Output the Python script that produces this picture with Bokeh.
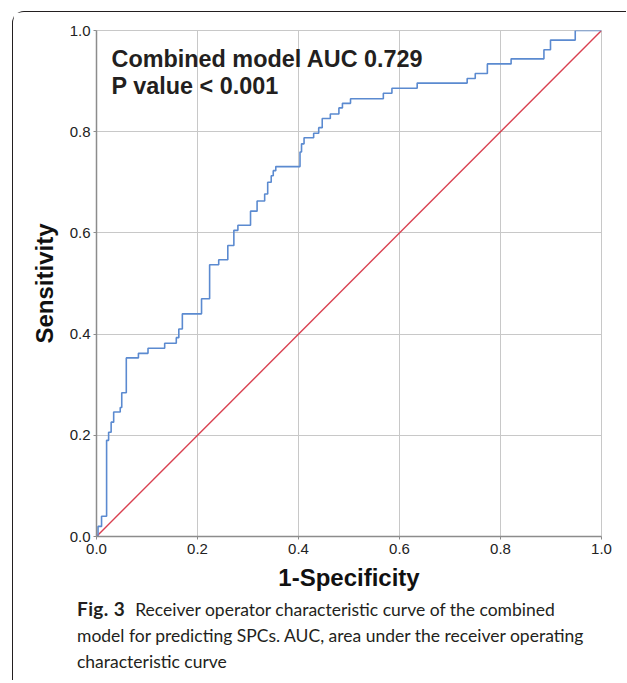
from bokeh.plotting import figure
from bokeh.models import Label, FixedTicker, PrintfTickFormatter, Range1d, Div
from bokeh.layouts import column
from bokeh.embed import file_html
from bokeh.resources import INLINE

# ROC curve points (1-Specificity, Sensitivity)
fpr = [0.0, 0.003, 0.01, 0.02, 0.024, 0.029, 0.034, 0.047, 0.05, 0.059,
       0.083, 0.102, 0.135, 0.158, 0.163, 0.17, 0.208, 0.224, 0.242, 0.26,
       0.272, 0.28, 0.305, 0.318, 0.333, 0.339, 0.346, 0.35, 0.355, 0.403,
       0.406, 0.411, 0.43, 0.44, 0.447, 0.463, 0.48, 0.487, 0.503, 0.568,
       0.585, 0.635, 0.734, 0.75, 0.774, 0.821, 0.886, 0.899, 0.948, 1.0]
tpr = [0.0, 0.02, 0.04, 0.19, 0.206, 0.226, 0.246, 0.255, 0.284, 0.353,
       0.362, 0.372, 0.382, 0.393, 0.41, 0.44, 0.47, 0.537, 0.547, 0.575,
       0.605, 0.615, 0.643, 0.663, 0.677, 0.70, 0.713, 0.723, 0.731, 0.76,
       0.776, 0.788, 0.797, 0.808, 0.826, 0.835, 0.847, 0.856, 0.865, 0.876,
       0.886, 0.896, 0.905, 0.915, 0.934, 0.944, 0.962, 0.981, 1.0, 1.0]
ref_x = [0.0, 1.0]
ref_y = [0.0, 1.0]
ticks = [0.0, 0.2, 0.4, 0.6, 0.8, 1.0]

annot_lines = ["Combined model AUC 0.729", "P value < 0.001"]
caption_bold = "Fig. 3"
caption_lines = ["Receiver operator characteristic curve of the combined",
                 "model for predicting SPCs. AUC, area under the receiver operating",
                 "characteristic curve"]

p = figure(frame_width=505, frame_height=506,
           min_border_left=83, min_border_right=25,
           min_border_top=18, min_border_bottom=56,
           x_range=Range1d(0, 1), y_range=Range1d(0, 1),
           output_backend="svg", toolbar_location=None)

p.background_fill_color = "white"
p.border_fill_color = "white"
p.outline_line_color = "#c8c8c8"
p.outline_line_width = 1

for ax in (p.xaxis, p.yaxis):
    ax.ticker = FixedTicker(ticks=ticks)
    ax.formatter = PrintfTickFormatter(format="%.1f")
    ax.axis_line_color = "#8c8c8c"
    ax.axis_line_width = 1.5
    ax.major_tick_line_color = "#8c8c8c"
    ax.major_tick_out = 3
    ax.major_tick_in = 0
    ax.minor_tick_line_color = None
    ax.major_label_text_font = "Liberation Sans"
    ax.major_label_text_font_size = "15px"
    ax.major_label_text_color = "#222222"
    ax.axis_label_text_font = "Liberation Sans"
    ax.axis_label_text_font_style = "bold"
    ax.axis_label_text_font_size = "24px"
    ax.axis_label_text_color = "#111111"

p.xaxis.axis_label = "1-Specificity"
p.yaxis.axis_label = "Sensitivity"
p.xaxis.axis_label_standoff = 7
p.yaxis.axis_label_standoff = 9
p.xaxis.major_label_standoff = 4
p.yaxis.major_label_standoff = 3

p.grid.grid_line_color = "#c8c8c8"
p.grid.grid_line_width = 1
p.xgrid.ticker = FixedTicker(ticks=ticks)
p.ygrid.ticker = FixedTicker(ticks=ticks)

p.line(ref_x, ref_y, line_color="#d94050", line_width=1.4)
p.step(fpr, tpr, mode="after", line_color="#5b8ad0", line_width=1.6)

# annotation inside the plot
for i, t in enumerate(annot_lines):
    p.add_layout(Label(x=15, y=478 - 27 * i, x_units="screen", y_units="screen",
                       text=t, text_font="Liberation Sans", text_font_style="bold",
                       text_font_size="23.4px", text_color="#231f20",
                       text_baseline="alphabetic", text_align="left"))

# caption below the plot
caption_html = ('<b style="font-size:19px;letter-spacing:0.4px">%s</b>'
                '<span style="margin-left:10px">%s</span><br>%s<br>%s'
                % (caption_bold, caption_lines[0], caption_lines[1], caption_lines[2]))
cap = Div(text=caption_html, width=545, height=84, margin=(3, 0, 0, 64),
          styles={"font-family": "Lato", "font-size": "17.5px", "line-height": "26px",
                  "color": "#231f20", "white-space": "nowrap"})

layout = column(p, cap, margin=(11, 0, 0, 12),
                styles={"border-left": "1px solid #231f20",
                        "border-top": "1px solid #231f20",
                        "border-top-left-radius": "12px",
                        "background": "white"})

open("out.html", "w").write(file_html(layout, INLINE))
